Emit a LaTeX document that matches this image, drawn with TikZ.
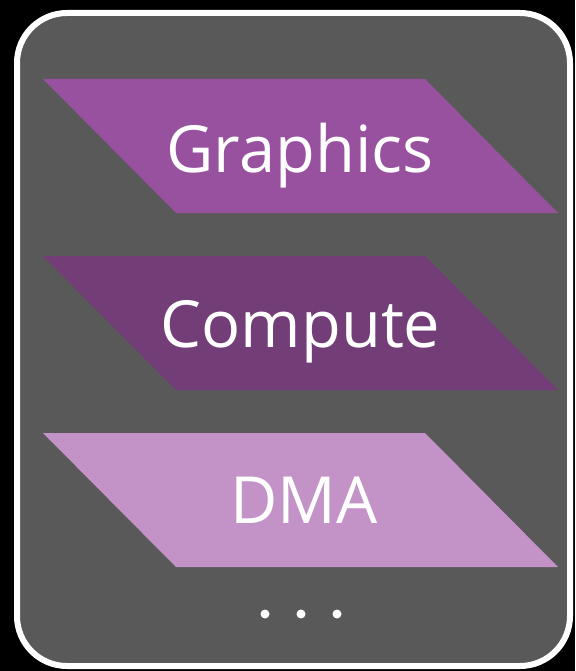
\documentclass[tikz,border=0pt]{standalone}
\usepackage{fontspec}
\setmainfont{Open Sans}
\definecolor{panelgray}{HTML}{595959}
\definecolor{gfxpurple}{HTML}{97519F}
\definecolor{cmppurple}{HTML}{733E78}
\definecolor{dmapurple}{HTML}{C393C8}
\tikzset{
  queue/.style={fill=#1},
  qlabel/.style={anchor=base, text=white, inner sep=0pt,
    font=\fontsize{65}{65}\selectfont},
  dot/.style={fill=white, circle, inner sep=0pt, minimum size=9pt}
}
\begin{document}
\begin{tikzpicture}[x=1pt, y=-1pt]
  % canvas
  \fill[black] (0,0) rectangle (575,671);
  \useasboundingbox (0,0) rectangle (575,671);
  % engine panel
  \draw[white, line width=6pt, fill=panelgray, rounded corners=50pt]
    (17,13) rectangle (570,666);
  % queues: parallelograms slanted at 45 degrees
  \foreach \name/\col/\top in {gfx/gfxpurple/79, cmp/cmppurple/256, dma/dmapurple/433} {
    \fill[queue=\col] (43,\top) -- (425,\top) -- (558,\top+134) -- (176,\top+134) -- cycle;
  }
  \node[qlabel] (gfx) at (300,172.5) {Graphics};
  \node[qlabel] (cmp) at (300.5,347) {Compute};
  \node[qlabel] (dma) at (304,523) {DMA};
  % ellipsis
  \node[dot] (d1) at (265,614) {};
  \node[dot] (d2) at (301,614) {};
  \node[dot] (d3) at (337,614) {};
\end{tikzpicture}
\end{document}
